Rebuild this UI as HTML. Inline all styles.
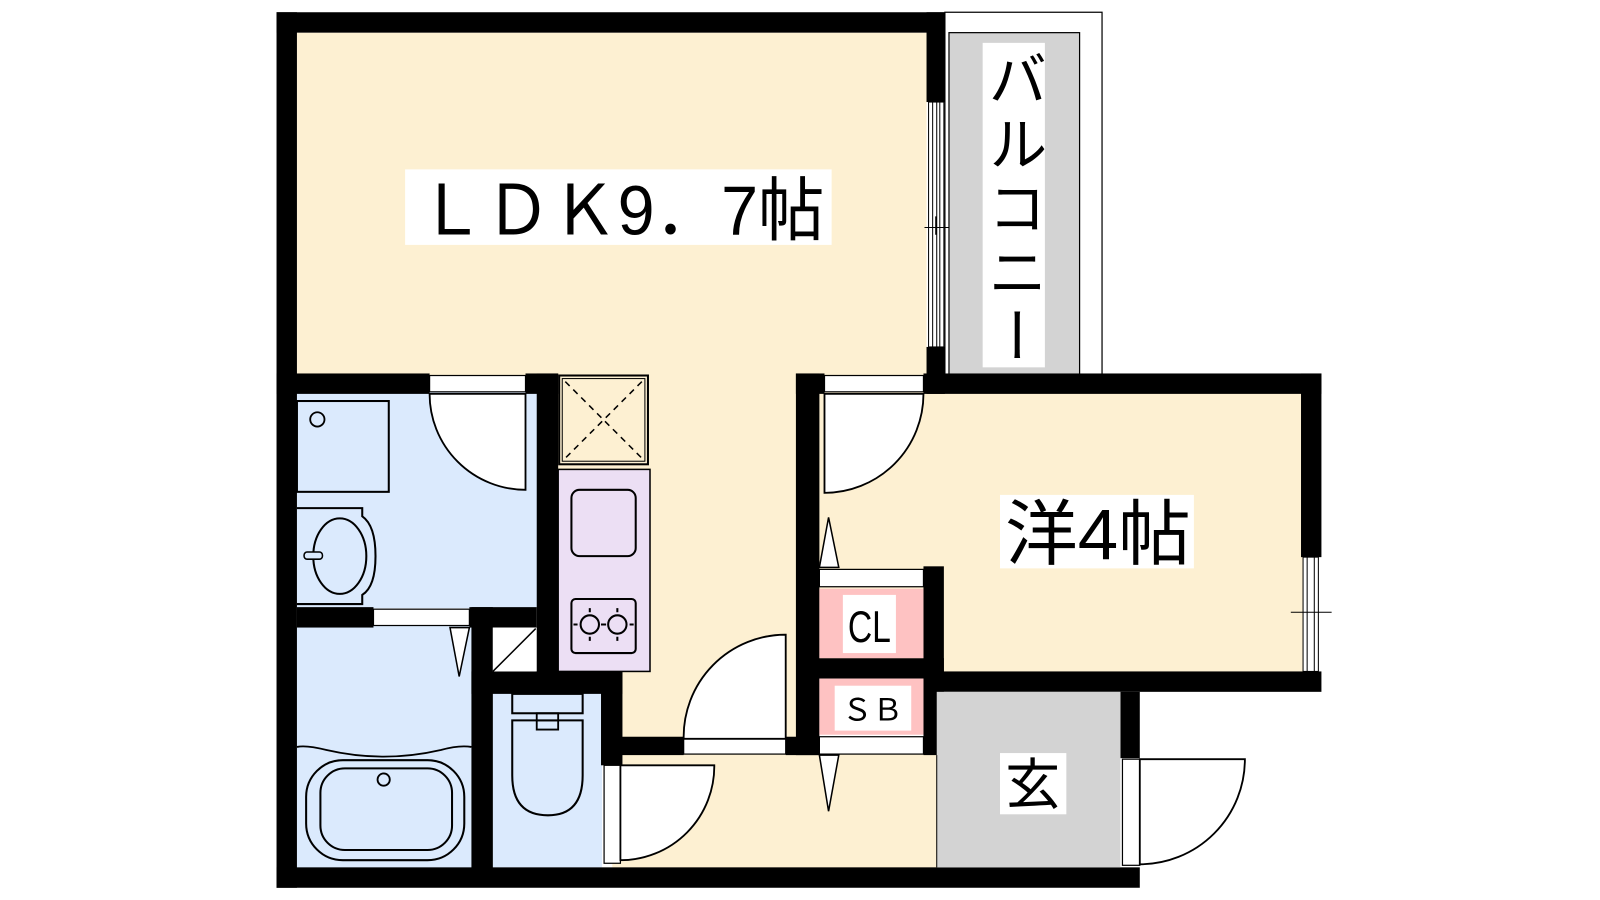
<!DOCTYPE html>
<html><head><meta charset="utf-8"><style>
html,body{margin:0;padding:0;background:#fff;width:1600px;height:900px;overflow:hidden}
svg{display:block}
text{font-family:"Liberation Sans","Noto Sans CJK JP",sans-serif;fill:#000}
</style></head><body>
<svg width="1600" height="900" viewBox="0 0 1568 882" preserveAspectRatio="none" xmlns="http://www.w3.org/2000/svg">
<rect width="1568" height="882" fill="#fff"/>
<g fill="#fdf0d2">
<rect x="291" y="32" width="617" height="340"/>
<rect x="545" y="366" width="240" height="360"/>
<rect x="600" y="735" width="320" height="117"/>
<rect x="800" y="384" width="478" height="276"/>
</g>
<rect x="926" y="12" width="154" height="356" fill="#fff" stroke="#000" stroke-width="1.2"/>
<rect x="930" y="32" width="128" height="336" fill="#d3d3d3" stroke="#000" stroke-width="1.2"/>
<rect x="963" y="42" width="61" height="318" fill="#fff"/>
<text x="993" y="48" font-size="58" letter-spacing="5" style="writing-mode:vertical-rl">バルコニー</text>
<g fill="#dbeafd">
<rect x="291" y="384" width="236" height="212"/>
<rect x="291" y="613" width="172" height="238"/>
<rect x="483" y="678" width="107" height="172"/>
</g>
<rect x="548" y="368" width="87" height="87" fill="#fdf0d2" stroke="#000" stroke-width="2"/>
<rect x="551" y="371" width="81" height="81" fill="none" stroke="#000" stroke-width="1"/>
<path d="M554 374L629 449M629 374L554 449" stroke="#000" stroke-width="1.5" stroke-dasharray="6 5"/>
<rect x="547" y="460" width="90" height="198" fill="#ecdff4" stroke="#000" stroke-width="1.5"/>
<rect x="560" y="480" width="63" height="65" rx="8" fill="none" stroke="#000" stroke-width="2"/>
<rect x="560" y="587" width="63" height="53" rx="4" fill="none" stroke="#000" stroke-width="2"/>
<circle cx="578" cy="612" r="9" fill="none" stroke="#000" stroke-width="2"/>
<circle cx="605" cy="612" r="9" fill="none" stroke="#000" stroke-width="2"/>
<path d="M578 600v-4M578 624v4M566 612h-4M590 612h4M605 600v-4M605 624v4M593 612h-4M617 612h4" stroke="#000" stroke-width="2"/>
<rect x="291" y="393" width="90" height="89" fill="none" stroke="#000" stroke-width="2"/>
<circle cx="311" cy="411" r="7" fill="none" stroke="#000" stroke-width="1.8"/>
<path d="M291 498H355V506Q368 515 368 545Q368 575 355 583V592H291" fill="none" stroke="#000" stroke-width="2"/>
<ellipse cx="333" cy="545" rx="26" ry="37" fill="none" stroke="#000" stroke-width="2"/>
<rect x="298" y="541" width="18" height="7" rx="3" fill="#dbeafd" stroke="#000" stroke-width="1.5"/>
<path d="M291 732Q300 730 320 735Q376 748 432 735Q450 730 462 732" fill="none" stroke="#000" stroke-width="1.8"/>
<rect x="300" y="745" width="155" height="98" rx="36" fill="none" stroke="#000" stroke-width="2"/>
<rect x="314" y="753" width="129" height="80" rx="24" fill="none" stroke="#000" stroke-width="2"/>
<circle cx="376" cy="764" r="6" fill="none" stroke="#000" stroke-width="1.8"/>
<rect x="502" y="680" width="69" height="19" fill="none" stroke="#000" stroke-width="2"/>
<rect x="526" y="699" width="21" height="7" fill="none" stroke="#000" stroke-width="1.8"/>
<path d="M502 706H571V760Q571 799 537 799Q502 799 502 760Z" fill="none" stroke="#000" stroke-width="2"/>
<path d="M526 706V715H547V706" fill="none" stroke="#000" stroke-width="1.8"/>
<g fill="#000">
<rect x="271" y="12" width="655" height="20"/>
<rect x="271" y="12" width="20" height="858"/>
<rect x="271" y="850" width="846" height="20"/>
<rect x="908" y="12" width="18" height="88"/>
<rect x="908" y="340" width="18" height="46"/>
<rect x="271" y="366" width="150" height="20"/>
<rect x="515" y="366" width="32" height="20"/>
<rect x="526" y="366" width="21" height="294"/>
<rect x="291" y="595" width="75" height="20"/>
<rect x="460" y="595" width="66" height="20"/>
<rect x="462" y="595" width="21" height="258"/>
<rect x="462" y="658" width="148" height="22"/>
<rect x="589" y="658" width="21" height="92"/>
<rect x="608" y="722" width="62" height="18"/>
<rect x="770" y="722" width="33" height="18"/>
<rect x="780" y="366" width="23" height="374"/>
<rect x="780" y="366" width="28" height="20"/>
<rect x="905" y="366" width="390" height="20"/>
<rect x="1275" y="366" width="20" height="180"/>
<rect x="905" y="555" width="20" height="185"/>
<rect x="800" y="645" width="125" height="20"/>
<rect x="905" y="658" width="390" height="20"/>
<rect x="1098" y="678" width="19" height="65"/>
</g>
<rect x="910" y="100" width="15" height="240" fill="#fff" stroke="#000" stroke-width="1"/>
<path d="M914 100V340M918 100V340M921 100V340M906 223H930M917 212V230" stroke="#000" stroke-width="1"/>
<rect x="1277" y="546" width="15" height="112" fill="#fff" stroke="#000" stroke-width="1"/>
<path d="M1281 546V658M1288 546V658M1265 600H1305" stroke="#000" stroke-width="1"/>
<rect x="421" y="368" width="94" height="16" fill="#fff" stroke="#000" stroke-width="1.2"/>
<path d="M421 386A94 94 0 0 0 515 480V386Z" fill="#fff" stroke="#000" stroke-width="1.8"/>
<rect x="366" y="597" width="94" height="16" fill="#fff" stroke="#000" stroke-width="1.2"/>
<path d="M441 615L460 615L450 663Z" fill="#fff" stroke="#000" stroke-width="1.5"/>
<rect x="483" y="615" width="42" height="43" fill="#fff"/>
<path d="M483 658L525 616" stroke="#000" stroke-width="1.5"/>
<rect x="592" y="750" width="16" height="96" fill="#fff" stroke="#000" stroke-width="1.2"/>
<path d="M608 750H700A92 92 0 0 1 608 843Z" fill="#fff" stroke="#000" stroke-width="1.8"/>
<rect x="670" y="724" width="100" height="15" fill="#fff" stroke="#000" stroke-width="1.2"/>
<path d="M670 724A100 100 0 0 1 770 622V724Z" fill="#fff" stroke="#000" stroke-width="1.8"/>
<rect x="808" y="368" width="97" height="16" fill="#fff" stroke="#000" stroke-width="1.2"/>
<path d="M808 386H905A97 97 0 0 1 808 483Z" fill="#fff" stroke="#000" stroke-width="1.8"/>
<rect x="803" y="558" width="102" height="17" fill="#fff" stroke="#000" stroke-width="1.2"/>
<path d="M803 556L822 556L812 507Z" fill="#fff" stroke="#000" stroke-width="1.5"/>
<rect x="803" y="577" width="102" height="68" fill="#fec2c2"/>
<rect x="826" y="583" width="52" height="57" fill="#fff"/>
<text x="852" y="629" font-size="44" text-anchor="middle" transform="translate(852 0) scale(0.75 1) translate(-852 0)">CL</text>
<rect x="803" y="665" width="102" height="55" fill="#fec2c2"/>
<rect x="818" y="672" width="75" height="44" fill="#fff"/>
<text x="855" y="706" font-size="30" text-anchor="middle">ＳＢ</text>
<rect x="803" y="722" width="102" height="17" fill="#fff" stroke="#000" stroke-width="1.2"/>
<path d="M803 740L822 740L812 795Z" fill="#fff" stroke="#000" stroke-width="1.5"/>
<rect x="918" y="678" width="180" height="172" fill="#d3d3d3"/>
<path d="M918 740V850" stroke="#000" stroke-width="1"/>
<rect x="1100" y="744" width="17" height="104" fill="#fff" stroke="#000" stroke-width="1.2"/>
<path d="M1117 744H1220A103 103 0 0 1 1117 847Z" fill="#fff" stroke="#000" stroke-width="1.8"/>
<rect x="980" y="738" width="65" height="60" fill="#fff"/>
<text x="1012" y="788" font-size="54" text-anchor="middle">玄</text>
<rect x="397" y="166" width="418" height="74" fill="#fff"/>
<text x="410" y="230" font-size="68" textLength="398" lengthAdjust="spacingAndGlyphs">ＬＤＫ9．7帖</text>
<rect x="980" y="485" width="190" height="72" fill="#fff"/>
<text x="985" y="548" font-size="70" textLength="182" lengthAdjust="spacingAndGlyphs">洋4帖</text>
</svg>
</body></html>
